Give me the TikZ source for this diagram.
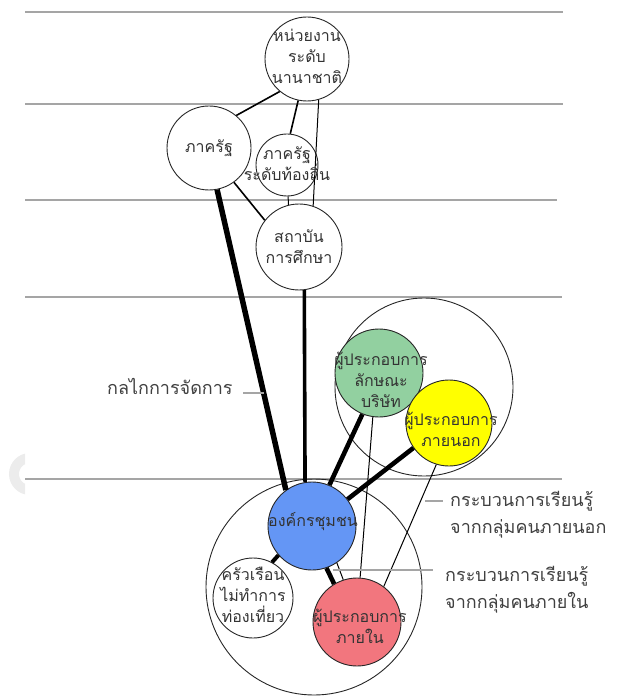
\documentclass[tikz,border=0pt]{standalone}
\usepackage{fontspec}
\newfontfamily\thaifont[Script=Thai]{Loma}
\definecolor{firmgreen}{RGB}{146,208,160}
\definecolor{outeryellow}{RGB}{255,255,0}
\definecolor{orgblue}{RGB}{100,150,245}
\definecolor{innerred}{RGB}{242,118,126}
\definecolor{bandgray}{RGB}{165,165,165}
\begin{document}
\begin{tikzpicture}[x=1pt,y=-1pt,
  actor/.style={circle,draw=black!85,line width=0.9pt,inner sep=0pt},
  actortext/.style={font=\thaifont\fontsize{16}{21}\selectfont,align=center,text=black!80,inner sep=0pt},
  note/.style={font=\thaifont\fontsize{18}{27}\selectfont,align=left,text=black!75,inner sep=0pt,anchor=west},
  band/.style={bandgray,line width=1.6pt},
  leader/.style={bandgray,line width=1.2pt},
  link/.style={line width=1.6pt},
  thinlink/.style={line width=1pt},
  heavylink/.style={line width=4.6pt}]
\useasboundingbox (0,0) rectangle (617,700);
\foreach \y/\e in {12/563,104/563,200/557,297/562,479/562}
  \draw[band] (25,\y) -- (\e,\y);
\begin{scope}
  \clip (0,440) rectangle (25,510);
  \draw[gray!15,line width=10pt] (30,474) circle [radius=16pt];
\end{scope}
\node[actor,minimum size=178pt] (outsiders) at (424,387) {};
\node[actor,minimum size=216pt] (community) at (314,587) {};
\node[actor,minimum size=84pt] (intl) at (307,59) {};
\node[actor,minimum size=84pt] (state) at (209,148) {};
\node[actor,minimum size=62pt] (local) at (287,165) {};
\node[actor,minimum size=86pt] (school) at (299,247) {};
\node[actor,minimum size=88pt,fill=firmgreen] (firm) at (379,373) {};
\node[actor,minimum size=86pt,fill=outeryellow] (outer) at (449,423) {};
\node[actor,minimum size=88pt,fill=orgblue] (org) at (312,526) {};
\node[actor,minimum size=80pt] (house) at (253,598) {};
\node[actor,minimum size=88pt,fill=innerred] (inner) at (357,622) {};
\draw[link] (intl.-130) -- (state.50);
\draw[link] (intl.-102) -- (local.84);
\draw[thinlink] (intl.-74) -- (school.71);
\draw[link] (state.-54) -- (school.142);
\draw[thinlink] (local.-88) -- (school.104);
\draw[heavylink,line width=5.5pt] (state.-79) -- (org.126);
\draw[heavylink,line width=3.6pt] (school.-83) -- (org.99);
\draw[heavylink] (firm.-112) -- (org.67);
\draw[heavylink] (outer.-145) -- (org.37);
\draw[thinlink] (firm.-98) -- (inner.86);
\draw[thinlink] (outer.-107) -- (inner.53);
\draw[heavylink,line width=4pt] (org.-139) -- (house.62);
\draw[heavylink] (org.-71) -- (inner.121);
\draw[thinlink] (org.-56) -- (inner.108);
\node[actortext] (intl-t) at (307,56) {หน่วยงาน\\ระดับ\\นานาชาติ};
\node[actortext] (state-t) at (state) {ภาครัฐ};
\node[actortext] (local-t) at (287,164) {ภาครัฐ\\ระดับท้องถิ่น};
\node[actortext] (school-t) at (school) {สถาบัน\\การศึกษา};
\node[actortext] (firm-t) at (381,380) {ผู้ประกอบการ\\ลักษณะ\\บริษัท};
\node[actortext] (outer-t) at (451,429) {ผู้ประกอบการ\\ภายนอก};
\node[actortext] (org-t) at (313,522) {องค์กรชุมชน};
\node[actortext] (house-t) at (253,595) {ครัวเรือน\\ไม่ทำการ\\ท่องเที่ยว};
\node[actortext] (inner-t) at (360,626) {ผู้ประกอบการ\\ภายใน};
\node[note] (mech) at (107,386) {กลไกการจัดการ};
\coordinate (mech-tip) at (264,393);
\draw[leader] (mech-tip) -- ++(-21,0);
\node[note] (learn-out) at (450,515) {กระบวนการเรียนรู้\\จากกลุ่มคนภายนอก};
\coordinate (out-tip) at (425,501);
\draw[leader] (out-tip) -- ++(18,0);
\node[note] (learn-in) at (445,590) {กระบวนการเรียนรู้\\จากกลุ่มคนภายใน};
\coordinate (in-tip) at (333,570);
\draw[leader] (in-tip) -- ++(100,0);
\end{tikzpicture}
\end{document}
